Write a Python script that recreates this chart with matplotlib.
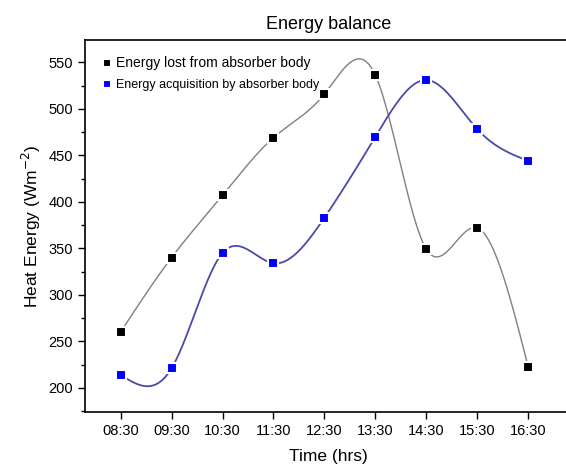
import numpy as np
import matplotlib
matplotlib.use('Agg')
import matplotlib.pyplot as plt
from matplotlib.ticker import MultipleLocator

plt.rcParams['font.family'] = ['Liberation Sans', 'DejaVu Sans']

times = ['08:30', '09:30', '10:30', '11:30', '12:30', '13:30', '14:30', '15:30', '16:30']
energy_lost = [260, 340, 407, 469, 516, 536, 349, 372, 222]
energy_gain = [214, 221, 345, 334, 383, 470, 531, 478, 444]


def spline(x, y, n=400):
    # natural cubic spline through the points
    x = np.asarray(x, float)
    y = np.asarray(y, float)
    k = len(x)
    h = np.diff(x)
    A = np.zeros((k, k))
    b = np.zeros(k)
    A[0, 0] = 1
    A[-1, -1] = 1
    for i in range(1, k - 1):
        A[i, i - 1] = h[i - 1]
        A[i, i] = 2 * (h[i - 1] + h[i])
        A[i, i + 1] = h[i]
        b[i] = 3 * ((y[i + 1] - y[i]) / h[i] - (y[i] - y[i - 1]) / h[i - 1])
    c = np.linalg.solve(A, b)
    xs = np.linspace(x[0], x[-1], n)
    idx = np.clip(np.searchsorted(x, xs) - 1, 0, k - 2)
    dx = xs - x[idx]
    bb = (y[idx + 1] - y[idx]) / h[idx] - h[idx] * (2 * c[idx] + c[idx + 1]) / 3
    d = (c[idx + 1] - c[idx]) / (3 * h[idx])
    ys = y[idx] + bb * dx + c[idx] * dx ** 2 + d * dx ** 3
    return xs, ys


xpos = np.arange(len(times))

fig = plt.figure(figsize=(5.66, 4.70), dpi=100)
ax = fig.add_axes([0.150, 0.1234, 0.86, 0.7915])

xs, ys = spline(xpos, energy_lost)
ax.plot(xs, ys, color='#808080', lw=1.0)
xs, ys = spline(xpos, energy_gain)
ax.plot(xs, ys, color='#4a4aa8', lw=1.3)

ax.plot(xpos, energy_lost, 's', color='black', ms=6.5, mec='white', mew=1.5,
        label='Energy lost from absorber body')
ax.plot(xpos, energy_gain, 's', color='#0000ff', ms=6.5, mec='white', mew=1.5,
        label='Energy acquisition by absorber body')

ax.set_xlim(-0.7, 8.85)
ax.set_ylim(174, 574)
ax.set_xticks(xpos)
ax.set_xticklabels(times)
ax.yaxis.set_major_locator(MultipleLocator(50))
ax.yaxis.set_minor_locator(MultipleLocator(25))
ax.tick_params(direction='out', labelsize=10.5, width=1, length=5)
ax.tick_params(which='minor', direction='out', length=3, width=1)
for s in ax.spines.values():
    s.set_linewidth(1.2)

ax.set_title('Energy balance', fontsize=13, pad=8)
ax.set_xlabel('Time (hrs)', fontsize=12.5, labelpad=8)
ax.set_ylabel('Heat Energy (Wm$^{-2}$)', fontsize=12.5)
leg = ax.legend(loc='upper left', frameon=False, fontsize=9, handletextpad=0.2,
                handlelength=1.0, borderaxespad=0.9, labelspacing=0.7, markerscale=0.8)
leg.get_texts()[0].set_fontsize(10)

fig.savefig('out.png', dpi=100)
